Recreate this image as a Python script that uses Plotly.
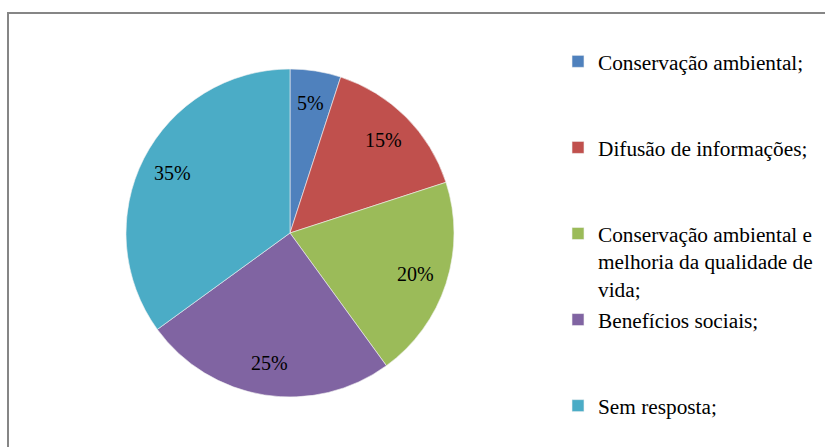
import math
import plotly.graph_objects as go

categories = [
    "Conservação ambiental;",
    "Difusão de informações;",
    "Conservação ambiental e<br>melhoria da qualidade de<br>vida;",
    "Benefícios sociais;",
    "Sem resposta;",
]
values = [5, 15, 20, 25, 35]
colors = ["#4F81BD", "#C0504D", "#9BBB59", "#8064A2", "#4BACC6"]

SERIF = "Liberation Serif, Times New Roman, serif"

# pad legend labels so every entry occupies the same height (Excel spacing)
def pad(label, lines):
    n = label.count("<br>") + 1
    return label + "<br>&nbsp;" * max(0, lines - n)

legend_labels = [pad(c, 3) for c in categories[:-1]] + [categories[-1]]

W, H = 825, 447
cx, cy, R = 290, 233, 164

fig = go.Figure(
    go.Pie(
        labels=legend_labels,
        values=values,
        sort=False,
        direction="clockwise",
        rotation=0,
        marker=dict(colors=colors, line=dict(color="#F2F2F2", width=0.6)),
        textinfo="none",
        hoverinfo="label+percent",
        domain=dict(
            x=[(cx - R) / W, (cx + R) / W],
            y=[1 - (cy + R) / H, 1 - (cy - R) / H],
        ),
    )
)

# percentage labels placed like Excel's data labels (at ~80% of the radius)
total = sum(values)
annotations = []
cum = 0.0
for v in values:
    mid = (cum + v / 2) / total * 2 * math.pi
    cum += v
    r = 0.805 * R
    px = cx + r * math.sin(mid)
    py = cy - r * math.cos(mid)
    annotations.append(
        dict(
            x=px / W,
            y=1 - py / H,
            xref="paper",
            yref="paper",
            text=f"{round(v / total * 100)}%",
            showarrow=False,
            xanchor="center",
            yanchor="middle",
            font=dict(family=SERIF, size=20, color="#000000"),
        )
    )

fig.update_layout(
    width=W,
    height=H,
    margin=dict(l=0, r=0, t=0, b=0),
    paper_bgcolor="white",
    plot_bgcolor="white",
    font=dict(family=SERIF, color="#000000"),
    showlegend=True,
    annotations=annotations,
    legend=dict(
        x=558 / W,
        xanchor="left",
        y=1 - 41 / H,
        yanchor="top",
        valign="top",
        font=dict(family=SERIF, size=21.3, color="#000000"),
        bgcolor="rgba(0,0,0,0)",
        borderwidth=0,
    ),
    shapes=[
        dict(
            type="rect",
            xref="paper",
            yref="paper",
            x0=8 / W,
            x1=1.02,
            y0=-0.02,
            y1=1 - 13 / H,
            line=dict(color="#868686", width=2),
            fillcolor="rgba(0,0,0,0)",
            layer="below",
        )
    ],
)

fig.write_html(
    "out.html",
    config={"displayModeBar": False},
    post_script="document.body.style.margin='0px';document.body.style.overflow='hidden';",
)
